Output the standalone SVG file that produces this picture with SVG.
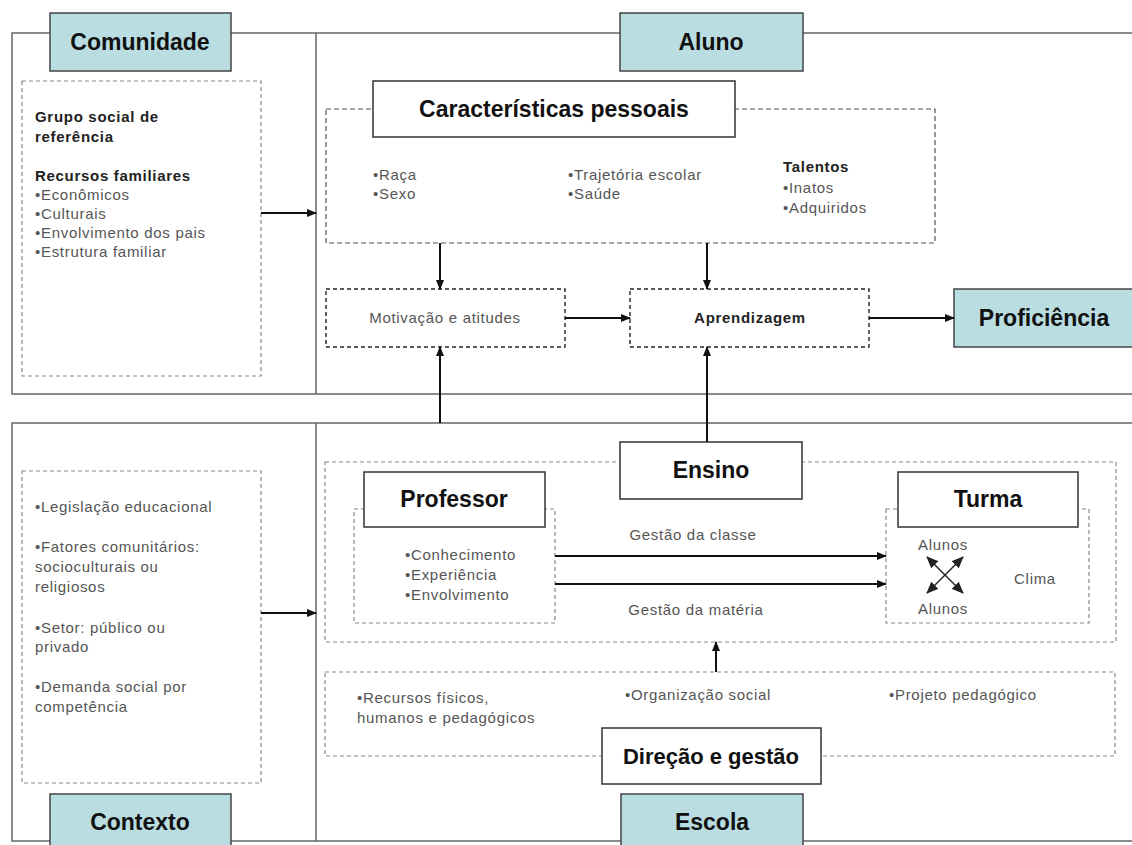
<svg xmlns="http://www.w3.org/2000/svg" width="1132" height="845" viewBox="0 0 1132 845">
<style>
  .panel{fill:none;stroke:#666;stroke-width:1.5}
  .label{fill:#b9dde0;stroke:#444;stroke-width:1.5}
  .box{fill:#fff;stroke:#333;stroke-width:1.5}
  .dl{fill:none;stroke:#888;stroke-width:1.2;stroke-dasharray:4 3}
  .dd{fill:#fff;stroke:#222;stroke-width:1.4;stroke-dasharray:4 3}
  .dm{fill:none;stroke:#555;stroke-width:1.2;stroke-dasharray:5 3}
  .h{font-family:"Liberation Sans",Arial,sans-serif;font-weight:bold;font-size:23px;fill:#111;text-anchor:middle}
  .t{font-family:"Liberation Sans",Arial,sans-serif;font-size:15px;fill:#555;letter-spacing:0.7px}
  .b{font-family:"Liberation Sans",Arial,sans-serif;font-size:15px;font-weight:bold;fill:#222;letter-spacing:0.7px}
  .c{text-anchor:middle}
  .ar{fill:none;stroke:#111;stroke-width:2}
  .ax{fill:none;stroke:#222;stroke-width:1.5}
</style>
<defs>
  <marker id="ah" markerWidth="10" markerHeight="8" refX="9" refY="4" orient="auto" markerUnits="userSpaceOnUse">
    <path d="M0,0 L10,4 L0,8 z" fill="#111"/>
  </marker>
  <marker id="ahs" markerWidth="12" markerHeight="10" refX="11" refY="5" orient="auto-start-reverse" markerUnits="userSpaceOnUse">
    <path d="M0,0 L12,5 L0,10 z" fill="#222"/>
  </marker>
</defs>

<g id="panels">
  <path class="panel" d="M1132,33 H12 V394 H1132 M316,33 V394"/>
  <path class="panel" d="M1132,423 H12 V841 H1132 M316,423 V841"/>
</g>

<g id="comunidade">
  <rect class="label" x="50" y="13" width="181" height="58"/>
  <text class="h" x="140" y="50">Comunidade</text>
</g>

<g id="grupo-social">
  <rect class="dl" x="22" y="81" width="239" height="295"/>
  <text class="b" x="35" y="122">Grupo social de</text>
  <text class="b" x="35" y="142">referência</text>
  <text class="b" x="35" y="181">Recursos familiares</text>
  <text class="t" x="35" y="200">•Econômicos</text>
  <text class="t" x="35" y="219">•Culturais</text>
  <text class="t" x="35" y="238">•Envolvimento dos pais</text>
  <text class="t" x="35" y="257">•Estrutura familiar</text>
</g>

<g id="aluno">
  <rect class="label" x="620" y="13" width="183" height="58"/>
  <text class="h" x="711" y="50">Aluno</text>
</g>

<g id="caracteristicas">
  <rect class="dm" x="326" y="109" width="609" height="134"/>
  <rect class="box" x="373" y="81" width="362" height="56"/>
  <text class="h" x="554" y="117">Características pessoais</text>
  <text class="t" x="373" y="180">•Raça</text>
  <text class="t" x="373" y="199">•Sexo</text>
  <text class="t" x="568" y="180">•Trajetória escolar</text>
  <text class="t" x="568" y="199">•Saúde</text>
  <text class="b" x="783" y="172">Talentos</text>
  <text class="t" x="783" y="193">•Inatos</text>
  <text class="t" x="783" y="213">•Adquiridos</text>
</g>

<g id="motivacao">
  <rect class="dd" x="326" y="289" width="239" height="58"/>
  <text class="t c" x="445" y="323">Motivação e atitudes</text>
</g>

<g id="aprendizagem">
  <rect class="dd" x="630" y="289" width="239" height="58"/>
  <text class="b c" x="750" y="323">Aprendizagem</text>
</g>

<g id="proficiencia">
  <rect class="label" x="954" y="289" width="190" height="58"/>
  <text class="h" x="1044" y="326">Proficiência</text>
</g>

<g id="ensino">
  <rect class="dl" x="325" y="462" width="791" height="180"/>
  <rect class="box" x="620" y="442" width="182" height="57"/>
  <text class="h" x="711" y="478">Ensino</text>
  <text class="t c" x="693" y="540">Gestão da classe</text>
  <text class="t c" x="696" y="615">Gestão da matéria</text>
</g>

<g id="professor">
  <rect class="dl" x="354" y="509" width="201" height="114"/>
  <rect class="box" x="364" y="472" width="181" height="55"/>
  <text class="h" x="454" y="507">Professor</text>
  <text class="t" x="405" y="560">•Conhecimento</text>
  <text class="t" x="405" y="580">•Experiência</text>
  <text class="t" x="405" y="600">•Envolvimento</text>
</g>

<g id="turma">
  <rect class="dl" x="886" y="509" width="203" height="114"/>
  <rect class="box" x="898" y="472" width="180" height="55"/>
  <text class="h" x="988" y="507">Turma</text>
  <text class="t c" x="943" y="550">Alunos</text>
  <text class="t c" x="943" y="614">Alunos</text>
  <text class="t c" x="1035" y="584">Clima</text>
</g>

<g id="direcao">
  <rect class="dl" x="325" y="672" width="790" height="84"/>
  <rect class="box" x="602" y="728" width="219" height="56"/>
  <text class="h" x="711" y="764" style="font-size:22px">Direção e gestão</text>
  <text class="t" x="357" y="703">•Recursos físicos,</text>
  <text class="t" x="357" y="723">humanos e pedagógicos</text>
  <text class="t" x="625" y="700">•Organização social</text>
  <text class="t" x="889" y="700">•Projeto pedagógico</text>
</g>

<g id="contexto-box">
  <rect class="dl" x="22" y="471" width="239" height="312"/>
  <text class="t" x="35" y="512">•Legislação educacional</text>
  <text class="t" x="35" y="552">•Fatores comunitários:</text>
  <text class="t" x="35" y="572">socioculturais ou</text>
  <text class="t" x="35" y="592">religiosos</text>
  <text class="t" x="35" y="633">•Setor: público ou</text>
  <text class="t" x="35" y="652">privado</text>
  <text class="t" x="35" y="692">•Demanda social por</text>
  <text class="t" x="35" y="712">competência</text>
</g>

<g id="contexto">
  <rect class="label" x="50" y="794" width="181" height="60"/>
  <text class="h" x="140" y="830">Contexto</text>
</g>

<g id="escola">
  <rect class="label" x="621" y="794" width="182" height="60"/>
  <text class="h" x="712" y="830">Escola</text>
</g>

<g id="connectors">
  <line class="ar" x1="261" y1="213" x2="316" y2="213" marker-end="url(#ah)"/>
  <line class="ar" x1="440" y1="243" x2="440" y2="289" marker-end="url(#ah)"/>
  <line class="ar" x1="707" y1="243" x2="707" y2="289" marker-end="url(#ah)"/>
  <line class="ar" x1="565" y1="318" x2="630" y2="318" marker-end="url(#ah)"/>
  <line class="ar" x1="869" y1="318" x2="954" y2="318" marker-end="url(#ah)"/>
  <line class="ar" x1="440" y1="423" x2="440" y2="347" marker-end="url(#ah)"/>
  <line class="ar" x1="707" y1="442" x2="707" y2="347" marker-end="url(#ah)"/>
  <line class="ar" x1="261" y1="613" x2="316" y2="613" marker-end="url(#ah)"/>
  <line class="ar" x1="555" y1="556" x2="886" y2="556" marker-end="url(#ah)"/>
  <line class="ar" x1="555" y1="584" x2="886" y2="584" marker-end="url(#ah)"/>
  <line class="ar" x1="716" y1="672" x2="716" y2="642" marker-end="url(#ah)"/>
  <line class="ax" x1="927" y1="557" x2="963" y2="593" marker-start="url(#ahs)" marker-end="url(#ahs)"/>
  <line class="ax" x1="963" y1="557" x2="927" y2="593" marker-start="url(#ahs)" marker-end="url(#ahs)"/>
</g>
</svg>
